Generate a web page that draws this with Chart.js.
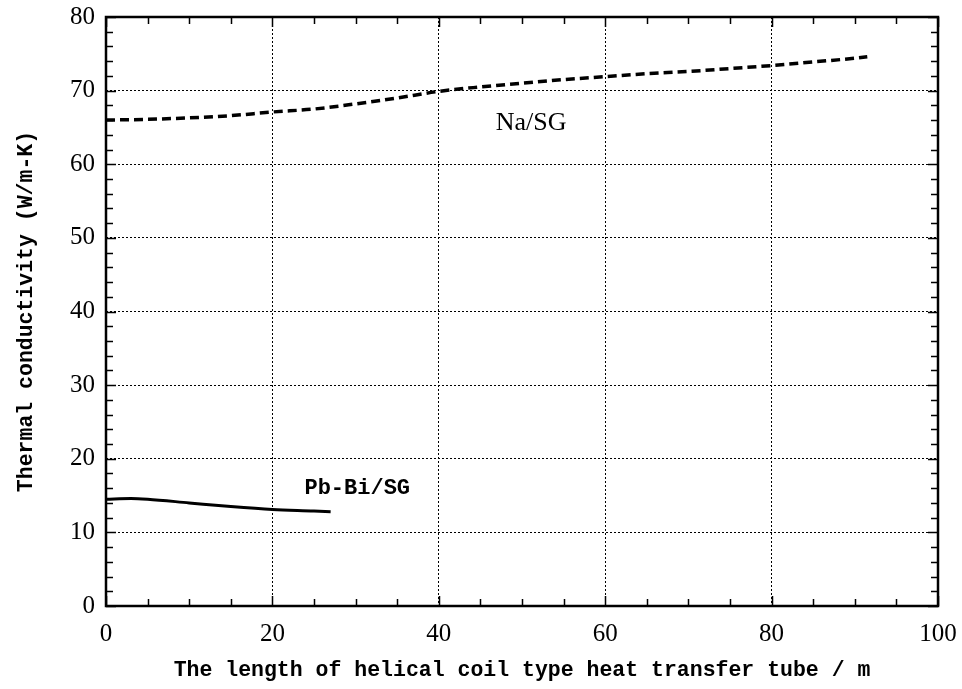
<!DOCTYPE html>
<html>
<head>
<meta charset="utf-8">
<script src="https://cdn.jsdelivr.net/npm/chart.js@4.4.0/dist/chart.umd.min.js"></script>
<style>
html,body{margin:0;padding:0;background:#fff;}
canvas{display:block;}
</style>
</head>
<body>
<canvas id="c" width="962" height="689"></canvas>
<script>
// ---- data ----
const naX = [0, 5, 10, 15, 20, 25, 30, 35, 40, 45, 50, 55, 60, 65, 70, 75, 80, 85, 90, 91.5];
const naY = [66.0, 66.1, 66.3, 66.6, 67.1, 67.5, 68.2, 69.0, 69.9, 70.5, 71.0, 71.5, 71.9, 72.3, 72.6, 73.0, 73.4, 73.9, 74.4, 74.6];
const pbX = [0, 3, 5, 10, 15, 20, 25, 27];
const pbY = [14.5, 14.6, 14.5, 14.0, 13.5, 13.1, 12.9, 12.8];
const xTickLabels = [0, 20, 40, 60, 80, 100];
const yTickLabels = [0, 10, 20, 30, 40, 50, 60, 70, 80];
const seriesNames = ["Na/SG", "Pb-Bi/SG"];
const labelPos = { "Na/SG": [51.1, 65.6], "Pb-Bi/SG": [30.2, 15.9] };
const xTitle = "The length of helical coil type heat transfer tube / m";
const yTitle = "Thermal conductivity (W/m-K)";

const toPts = (xs, ys) => xs.map((x, i) => ({ x: x, y: ys[i] }));

const framePlugin = {
  id: 'frame',
  afterDraw(chart) {
    const { ctx, chartArea: a, scales } = chart;
    const xs = scales.x, ys = scales.y;
    ctx.save();
    ctx.strokeStyle = '#000';
    ctx.lineWidth = 1.5;
    const tl = 7;
    ctx.beginPath();
    for (let v = 0; v <= 100; v += 5) {
      const px = Math.round(xs.getPixelForValue(v)) + 0.5;
      const len = (v % 20 === 0) ? 10 : tl;
      ctx.moveTo(px, a.bottom); ctx.lineTo(px, a.bottom - len);
      ctx.moveTo(px, a.top); ctx.lineTo(px, a.top + len);
    }
    for (let v = 0; v <= 80; v += 2) {
      const py = Math.round(ys.getPixelForValue(v)) + 0.5;
      const len = (v % 10 === 0) ? 10 : tl;
      ctx.moveTo(a.left, py); ctx.lineTo(a.left + len, py);
      ctx.moveTo(a.right, py); ctx.lineTo(a.right - len, py);
    }
    ctx.stroke();
    ctx.lineWidth = 2.5;
    ctx.strokeRect(a.left, a.top, a.right - a.left, a.bottom - a.top);
    ctx.fillStyle = '#000';
    ctx.textAlign = 'center';
    ctx.textBaseline = 'middle';
    ctx.font = '26px "Liberation Serif"';
    let p = labelPos["Na/SG"];
    ctx.fillText("Na/SG", xs.getPixelForValue(p[0]), ys.getPixelForValue(p[1]));
    ctx.font = 'bold 22px "Liberation Mono"';
    p = labelPos["Pb-Bi/SG"];
    ctx.fillText("Pb-Bi/SG", xs.getPixelForValue(p[0]), ys.getPixelForValue(p[1]));
    ctx.restore();
  }
};

new Chart(document.getElementById('c'), {
  type: 'line',
  data: {
    datasets: [
      {
        label: seriesNames[0],
        data: toPts(naX, naY),
        borderColor: '#000',
        borderWidth: 3.5,
        borderDash: [9, 5],
        pointRadius: 0,
        cubicInterpolationMode: 'monotone',
        fill: false
      },
      {
        label: seriesNames[1],
        data: toPts(pbX, pbY),
        borderColor: '#000',
        borderWidth: 3,
        pointRadius: 0,
        cubicInterpolationMode: 'monotone',
        fill: false
      }
    ]
  },
  options: {
    responsive: false,
    animation: false,
    events: [],
    layout: { padding: { left: 0, right: 24, top: 17, bottom: 6 } },
    plugins: { legend: { display: false }, tooltip: { enabled: false } },
    scales: {
      x: {
        type: 'linear',
        min: 0, max: 100,
        afterFit(s) { s.height = 77; s.paddingLeft = 0; s.paddingRight = 0; },
        afterBuildTicks(s) { s.ticks = xTickLabels.map(v => ({ value: v })); },
        ticks: {
          color: '#000',
          font: { family: '"Liberation Serif"', size: 25 },
          padding: 13,
          maxRotation: 0
        },
        grid: { color: '#000', lineWidth: 1, drawTicks: false },
        border: { display: false, dash: [2, 2] },
        title: {
          display: true,
          text: xTitle,
          color: '#000',
          font: { family: '"Liberation Mono"', size: 21.5, weight: 'bold' },
          padding: { top: 2, bottom: 0 }
        }
      },
      y: {
        type: 'linear',
        min: 0, max: 80,
        afterFit(s) { s.width = 106; s.paddingTop = 0; s.paddingBottom = 0; },
        afterBuildTicks(s) { s.ticks = yTickLabels.map(v => ({ value: v })); },
        ticks: {
          color: '#000',
          font: { family: '"Liberation Serif"', size: 25 },
          padding: 11
        },
        grid: { color: '#000', lineWidth: 1, drawTicks: false },
        border: { display: false, dash: [2, 2] },
        title: {
          display: true,
          text: yTitle,
          color: '#000',
          font: { family: '"Liberation Mono"', size: 21.5, weight: 'bold' },
          padding: { top: 14, bottom: 0 }
        }
      }
    }
  },
  plugins: [framePlugin]
});
</script>
</body>
</html>
